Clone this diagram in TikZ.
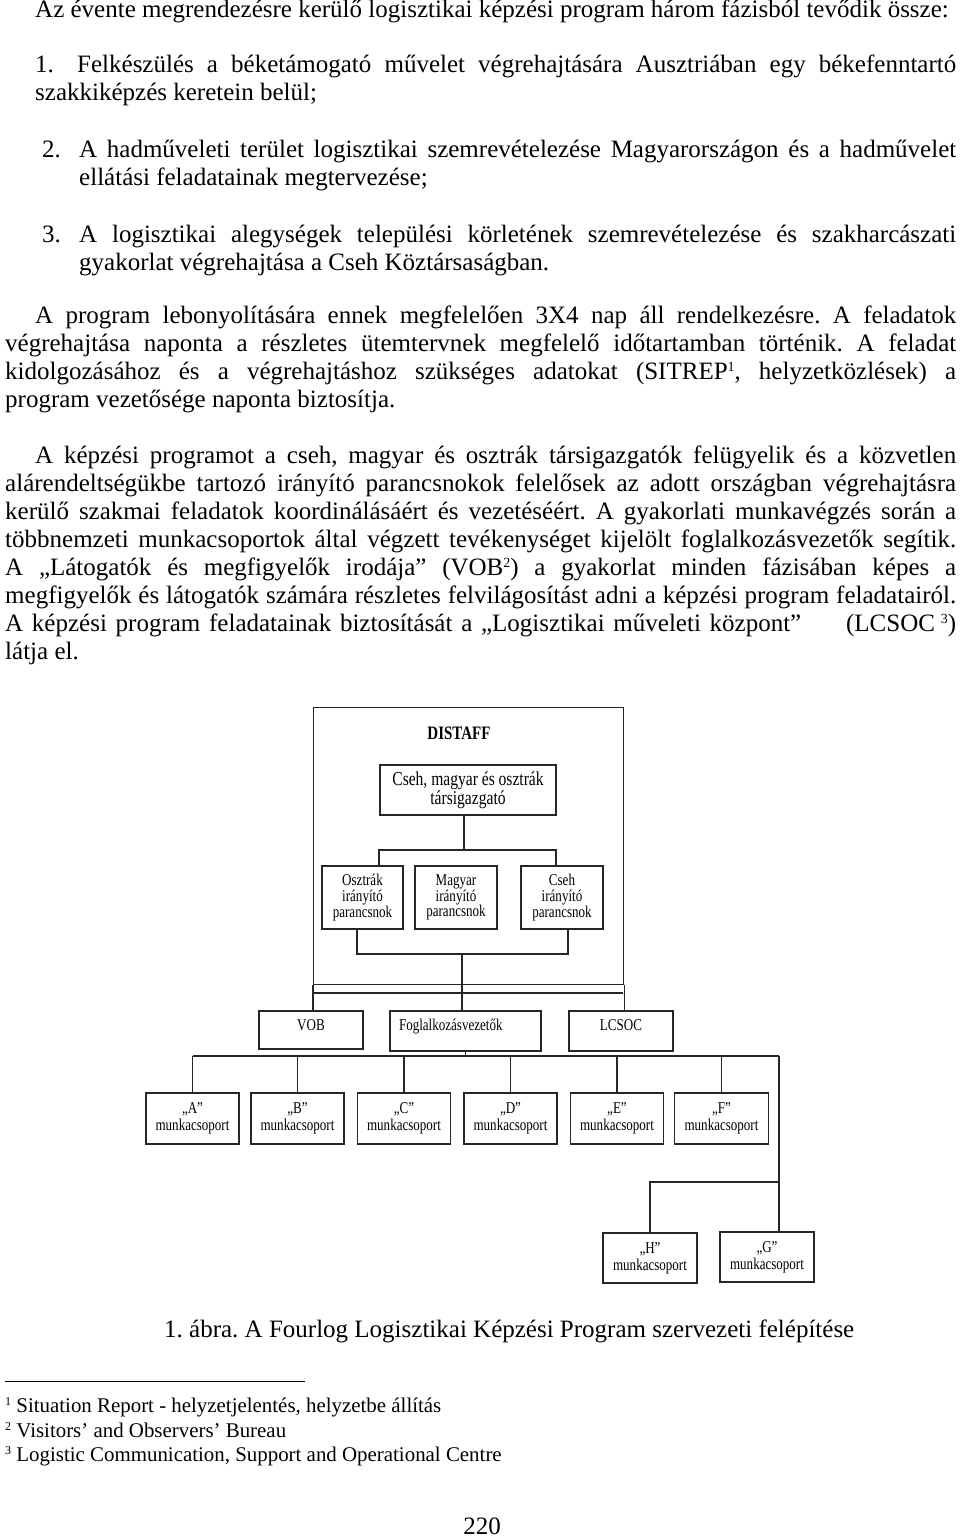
\documentclass[tikz,border=0pt]{standalone}
\usepackage{fontspec}
\setmainfont{Liberation Serif}
\newfontfamily\diagfont[FakeStretch=0.79]{Liberation Serif}
\newcommand{\justline}[2]{\makebox[#1][s]{#2}}
\newcommand{\bodysup}[1]{\raisebox{8pt}{\fontsize{14}{14}\selectfont #1}}
\newcommand{\fnsup}[1]{\raisebox{7pt}{\fontsize{12}{12}\selectfont #1}}
\tikzset{
  body/.style={anchor=base west, inner sep=0pt, font=\fontsize{25}{28}\selectfont},
  fn/.style={anchor=base west, inner sep=0pt, font=\fontsize{20.9}{25}\selectfont},
  box/.style={draw=black!85, line width=1.2pt, inner sep=2pt, align=center, font=\diagfont\fontsize{16.5}{15.8}\selectfont},
  wg/.style={box, font=\diagfont\fontsize{16.5}{16.6}\selectfont, minimum width=93pt, minimum height=51pt},
  cmd/.style={box, minimum height=63pt},
  conn/.style={draw=black!85, line width=1.2pt},
}
\begin{document}
\frenchspacing
\begin{tikzpicture}[x=1pt,y=-1pt]
\useasboundingbox[fill=white] (0,0) rectangle (960,1537);

% ---------- body text ----------
\node[body] (l0) at (35,17) {Az évente megrendezésre kerülő logisztikai képzési program három fázisból tevődik össze:};

\node[body] (n1) at (35,72) {1.};
\node[body] (i1a) at (77,72) {\justline{879pt}{Felkészülés a béketámogató művelet végrehajtására Ausztriában egy békefenntartó}};
\node[body] (i1b) at (35,100) {szakkiképzés keretein belül;};

\node[body] (n2) at (42,157) {2.};
\node[body] (i2a) at (79,157) {\justline{877pt}{A hadműveleti terület logisztikai szemrevételezése Magyarországon és a hadművelet}};
\node[body] (i2b) at (79,185) {ellátási feladatainak megtervezése;};

\node[body] (n3) at (42,242) {3.};
\node[body] (i3a) at (79,242) {\justline{877pt}{A logisztikai alegységek települési körletének szemrevételezése és szakharcászati}};
\node[body] (i3b) at (79,270) {gyakorlat végrehajtása a Cseh Köztársaságban.};

\node[body] (a1) at (35,323) {\justline{921pt}{A program lebonyolítására ennek megfelelően 3X4 nap áll rendelkezésre. A feladatok}};
\node[body] (a2) at (5,351) {\justline{951pt}{végrehajtása naponta a részletes ütemtervnek megfelelő időtartamban történik. A feladat}};
\node[body] (a3) at (5,379) {\justline{951pt}{kidolgozásához és a végrehajtáshoz szükséges adatokat (SITREP\bodysup{1}, helyzetközlések) a}};
\node[body] (a4) at (5,407) {program vezetősége naponta biztosítja.};

\node[body] (b1) at (35,463) {\justline{921pt}{A képzési programot a cseh, magyar és osztrák társigazgatók felügyelik és a közvetlen}};
\node[body] (b2) at (5,491) {\justline{951pt}{alárendeltségükbe tartozó irányító parancsnokok felelősek az adott országban végrehajtásra}};
\node[body] (b3) at (5,519) {\justline{951pt}{kerülő szakmai feladatok koordinálásáért és vezetéséért. A gyakorlati munkavégzés során a}};
\node[body] (b4) at (5,547) {\justline{951pt}{többnemzeti munkacsoportok által végzett tevékenységet kijelölt foglalkozásvezetők segítik.}};
\node[body] (b5) at (5,575) {\justline{951pt}{A „Látogatók és megfigyelők irodája” (VOB\bodysup{2}) a gyakorlat minden fázisában képes a}};
\node[body] (b6) at (5,603) {\justline{951pt}{megfigyelők és látogatók számára részletes felvilágosítást adni a képzési program feladatairól.}};
\node[body] (b7) at (5,631) {\justline{951pt}{A képzési program feladatainak biztosítását a „Logisztikai műveleti központ”\hspace{36pt} (LCSOC\kern6pt\bodysup{3})}};
\node[body] (b8) at (5,659) {látja el.};

% ---------- diagram ----------
\node[draw=black!85, line width=1.2pt, minimum width=310pt, minimum height=277pt, anchor=north west, inner sep=0pt] (frame) at (313,707) {};
\node[inner sep=0pt, font=\diagfont\bfseries\fontsize{19}{20}\selectfont] (distaff) at (459,733) {DISTAFF};
\node[box, font=\diagfont\fontsize{19.7}{19}\selectfont, minimum width=176pt, minimum height=50pt] (tars) at (468,790) {Cseh, magyar és osztrák\\társigazgató};

\node[cmd, minimum width=81pt] (oszt) at (362.5,897.5) {Osztrák\\irányító\\parancsnok};
\node[cmd, minimum width=82pt] (magy) at (456,897.5) {Magyar\\irányító\\parancsnok};
\node[cmd, minimum width=82pt] (cseh) at (562,897.5) {Cseh\\irányító\\parancsnok};

\node[box, minimum width=104pt, minimum height=38pt, text height=11pt, text depth=11pt] (vob) at (311,1030) {VOB};
\node[box, minimum width=151pt, minimum height=40pt, text width=133pt, align=left, text height=11pt, text depth=13pt] (fogl) at (465.5,1031) {Foglalkozásvezetők};
\node[box, minimum width=104pt, minimum height=40pt, text height=11pt, text depth=13pt] (lcsoc) at (621,1031) {LCSOC};

\node[wg] (wA) at (192.5,1118.5) {„A”\\munkacsoport};
\node[wg] (wB) at (297.5,1118.5) {„B”\\munkacsoport};
\node[wg] (wC) at (404,1118.5) {„C”\\munkacsoport};
\node[wg] (wD) at (510.5,1118.5) {„D”\\munkacsoport};
\node[wg] (wE) at (617,1118.5) {„E”\\munkacsoport};
\node[wg, minimum width=94pt] (wF) at (721.5,1118.5) {„F”\\munkacsoport};
\node[wg, minimum width=94pt, minimum height=50pt] (wH) at (650,1258) {„H”\\munkacsoport};
\node[wg, minimum width=94pt, minimum height=50pt] (wG) at (767,1257) {„G”\\munkacsoport};

% junction coordinates
\coordinate (j1) at (464,850);
\coordinate (b1l) at (379,850);
\coordinate (b1r) at (556,850);
\coordinate (b2l) at (357,954);
\coordinate (b2r) at (568,954);
\coordinate (j2) at (462,954);
\coordinate (b3l) at (313,993);
\coordinate (b3r) at (623,993);
\coordinate (j3) at (465.5,1056);
\coordinate (b4l) at (192.5,1056);
\coordinate (b4r) at (779,1056);
\coordinate (k1) at (779,1182);

% connectors
\draw[conn] (tars.south -| j1) -- (j1);
\draw[conn] (oszt.north -| b1l) -- (b1l) -- (b1r) -- (cseh.north -| b1r);
\draw[conn] (oszt.south -| b2l) -- (b2l) -- (b2r) -- (cseh.south -| b2r);
\draw[conn] (j2) -- (fogl.north -| j2);
\draw[conn] (b3l) -- (b3r);
\draw[conn] (frame.south west) -- (vob.north -| frame.south west);
\draw[conn] (frame.south east) -- (lcsoc.north -| frame.south east);
\draw[conn] (fogl.south -| j3) -- (j3);
\draw[conn] (b4l) -- (b4r);
\foreach \w in {wA,wB,wC,wD,wE,wF} {
  \draw[conn] (\w.north |- b4l) -- (\w.north);
}
\draw[conn] (b4r) -- (wG.north -| b4r);
\draw[conn] (k1) -- (wH.north |- k1) -- (wH.north);

% ---------- caption and footnotes ----------
\node[body] (cap) at (164,1337) {1. ábra. A Fourlog Logisztikai Képzési Program szervezeti felépítése};

\coordinate (r1) at (5,1381);
\coordinate (r2) at (305,1381);
\draw[line width=1pt] (r1) -- (r2);

\node[fn] (f1) at (5,1412) {\fnsup{1} Situation Report - helyzetjelentés, helyzetbe állítás};
\node[fn] (f2) at (5,1437) {\fnsup{2} Visitors’ and Observers’ Bureau};
\node[fn] (f3) at (5,1461) {\fnsup{3} Logistic Communication, Support and Operational Centre};

\node[anchor=base, inner sep=0pt, font=\fontsize{25}{28}\selectfont] (pg) at (482,1534) {220};
\end{tikzpicture}
\end{document}
